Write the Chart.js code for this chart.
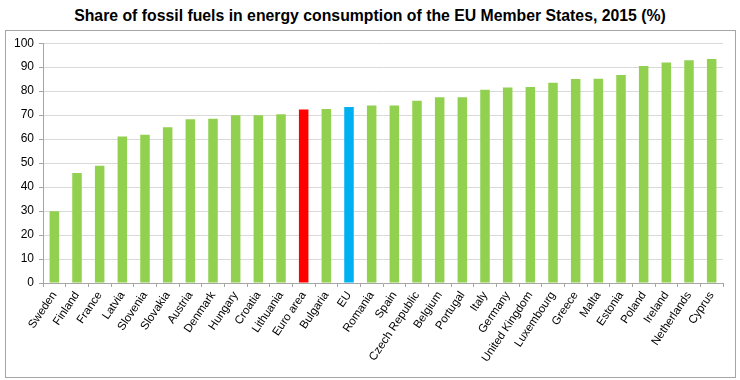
<!DOCTYPE html>
<html lang="en">
<head>
  <meta charset="UTF-8" />
  <title>Share of fossil fuels in energy consumption</title>
  <script src="https://cdn.jsdelivr.net/npm/chart.js"></script>
  <style>
    body { margin: 0; background: #fff; font-family: "Liberation Sans", Arial, sans-serif; }
    .title {
      position: absolute; left: 0; top: 7px; width: 740px;
      text-align: center; font-weight: bold; font-size: 15.8px; color: #000;
    }
    .box {
      position: absolute; left: 5px; top: 30px; width: 729px; height: 346px;
      border: 1px solid #a6a6a6;
    }
  </style>
</head>
<body>
  <div class="title">Share of fossil fuels in energy consumption of the EU Member States, 2015 (%)</div>
  <div class="box">
    <canvas id="chart" width="729" height="346"></canvas>
  </div>

<script>
  const countries = ["Sweden", "Finland", "France", "Latvia", "Slovenia", "Slovakia", "Austria",
    "Denmark", "Hungary", "Croatia", "Lithuania", "Euro area", "Bulgaria", "EU", "Romania", "Spain",
    "Czech Republic", "Belgium", "Portugal", "Italy", "Germany", "United Kingdom", "Luxembourg",
    "Greece", "Malta", "Estonia", "Poland", "Ireland", "Netherlands", "Cyprus"];
  const fossilShare = [29.9, 45.9, 48.9, 61.1, 61.8, 65.0, 68.3, 68.5, 70.0, 70.0, 70.4, 72.3,
    72.6, 73.4, 74.0, 74.0, 76.0, 77.5, 77.5, 80.6, 81.5, 81.7, 83.5, 85.1, 85.2, 86.7, 90.5,
    92.0, 92.9, 93.4];
  const yTicks = [0, 10, 20, 30, 40, 50, 60, 70, 80, 90, 100];

  const barColors = countries.map(c => c === "Euro area" ? "#ff0000" : (c === "EU" ? "#00b0f0" : "#92d050"));

  new Chart(document.getElementById("chart"), {
    type: 'bar',
    data: {
      labels: countries,
      datasets: [{
        data: fossilShare,
        backgroundColor: barColors,
        borderWidth: 0,
        barPercentage: 0.42,
        categoryPercentage: 1
      }]
    },
    options: {
      responsive: false,
      animation: false,
      layout: { padding: { top: 12, right: 12, left: 0, bottom: 0 } },
      plugins: { legend: { display: false }, tooltip: { enabled: false } },
      scales: {
        y: {
          min: 0, max: 100,
          afterBuildTicks: s => { s.ticks = yTicks.map(v => ({ value: v })); },
          afterFit: s => { s.width = 37; },
          grid: { color: '#d9d9d9', tickLength: 4, tickColor: '#a6a6a6' },
          border: { color: '#a6a6a6' },
          ticks: { color: '#000', font: { family: 'Liberation Sans', size: 12 }, padding: 5 }
        },
        x: {
          afterFit: s => { s.height = 94; },
          grid: { offset: true, drawOnChartArea: false, tickLength: 4, tickColor: '#a6a6a6' },
          border: { color: '#a6a6a6' },
          ticks: {
            color: '#000', autoSkip: false, minRotation: 56, maxRotation: 56,
            font: { family: 'Liberation Sans', size: 11.5 }, padding: 2
          }
        }
      }
    }
  });
</script>
</body>
</html>
